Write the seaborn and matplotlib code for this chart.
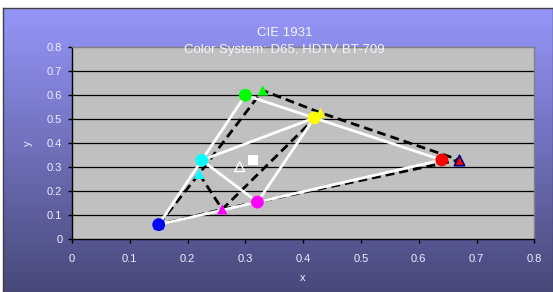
import numpy as np
import matplotlib
matplotlib.use('Agg')
import matplotlib.pyplot as plt
import seaborn as sns

# BT-709 primaries + secondaries (circles, white lines)
bt709_names = ['red', 'green', 'blue', 'cyan', 'magenta', 'yellow']
bt709_x = [0.64, 0.30, 0.15, 0.2246, 0.3209, 0.4193]
bt709_y = [0.33, 0.60, 0.06, 0.3287, 0.1542, 0.5053]
bt709_colors = ['#ff0000', '#00ff00', '#0000ff', '#00ffff', '#ff00ff', '#ffff00']

# comparison system (triangles, dashed black lines)
cmp_x = [0.67, 0.33, 0.15, 0.22, 0.26, 0.43]
cmp_y = [0.33, 0.62, 0.06, 0.272, 0.124, 0.527]

# white points
d65_x, d65_y = 0.3127, 0.329
wp_x, wp_y = 0.29, 0.302

# drawing order of line segments (indices into the lists above)
white_path = [2, 3, 1, 5, 0, 4, 2]
white_inner = [3, 5, 4, 3]
dash_path = [2, 3, 1, 5, 0, 4, 2]
dash_inner = [3, 4, 5]

sns.set_theme(style='white')
plt.rcParams['font.family'] = ['Liberation Sans', 'DejaVu Sans']

W, H = 553, 292
fig = plt.figure(figsize=(W / 100, H / 100), dpi=100)
fig.patch.set_facecolor('white')

# gradient chart area background
bg = fig.add_axes([3 / W, 0, 1 - 3 / W, (H - 8) / H])
top = np.array([150, 150, 250]) / 255
bot = np.array([72, 72, 122]) / 255
t = np.linspace(0, 1, 256)[:, None]
grad = (top[None, :] * (1 - t) + bot[None, :] * t)[:, None, :]
bg.imshow(grad, aspect='auto', extent=[0, 1, 0, 1])
bg.set_xticks([])
bg.set_yticks([])
for s in bg.spines.values():
    s.set_color('#404040')
    s.set_linewidth(1.0)

ax = fig.add_axes([72 / W, (H - 239) / H, (534.3 - 72) / W, (239 - 47.3) / H])
ax.set_facecolor('#c0c0c0')
ax.set_xlim(0, 0.8)
ax.set_ylim(0, 0.8)
ax.set_xticks(np.arange(0, 0.81, 0.1))
ax.set_yticks(np.arange(0, 0.81, 0.1))
ax.set_xticklabels(['0', '0.1', '0.2', '0.3', '0.4', '0.5', '0.6', '0.7', '0.8'])
ax.set_yticklabels(['0', '0.1', '0.2', '0.3', '0.4', '0.5', '0.6', '0.7', '0.8'])
for yv in np.arange(0.1, 0.8, 0.1):
    ax.axhline(yv, color='black', lw=0.9, zorder=1)
ax.spines['left'].set_color('black')
ax.spines['bottom'].set_color('black')
ax.spines['top'].set_color('#808080')
ax.spines['right'].set_color('#808080')
for s in ax.spines.values():
    s.set_linewidth(1.0)
ax.tick_params(colors='black', labelcolor='#eeeeff', labelsize=8,
               direction='out', length=3, width=1,
               bottom=True, left=True)
ax.tick_params(axis='x', pad=8)
ax.tick_params(axis='y', pad=4)

dash = (0, (3.2, 1.8))

# white solid lines
sns.lineplot(x=[bt709_x[i] for i in white_path], y=[bt709_y[i] for i in white_path],
             sort=False, estimator=None, color='white', lw=2, ax=ax, zorder=3)
sns.lineplot(x=[bt709_x[i] for i in white_inner], y=[bt709_y[i] for i in white_inner],
             sort=False, estimator=None, color='white', lw=2, ax=ax, zorder=3)

# dashed black lines
sns.lineplot(x=[cmp_x[i] for i in dash_path], y=[cmp_y[i] for i in dash_path],
             sort=False, estimator=None, color='black', lw=2, ax=ax, zorder=2,
             linestyle=dash)
sns.lineplot(x=[cmp_x[i] for i in dash_inner], y=[cmp_y[i] for i in dash_inner],
             sort=False, estimator=None, color='black', lw=2, ax=ax, zorder=2,
             linestyle=dash)

# triangle markers
edge = ['#000080', 'none', 'none', 'none', 'none', 'none']
for i in range(6):
    ax.scatter(cmp_x[i], cmp_y[i], marker='^', s=55, color=bt709_colors[i],
               edgecolors=edge[i], linewidths=1.2, zorder=4)

# circle markers
sns.scatterplot(x=bt709_x, y=bt709_y, hue=bt709_names, palette=bt709_colors,
                s=85, marker='o', linewidth=0, legend=False, ax=ax, zorder=5)

ax.scatter(d65_x, d65_y, marker='s', s=55, color='white', linewidths=0, zorder=5)
ax.scatter(wp_x, wp_y, marker='^', s=50, facecolors='none', edgecolors='white',
           linewidths=1.0, zorder=5)

ax.set_xlabel('x', color='#eeeeff', fontsize=8, labelpad=6)
ax.set_ylabel('y', color='#eeeeff', fontsize=8, labelpad=10)

fig.text(285 / W, 1 - 32.7 / H, 'CIE 1931', ha='center', va='center',
         color='#f4f4ff', fontsize=9.5)
fig.text(284.5 / W, 1 - 50 / H, 'Color System: D65, HDTV BT-709', ha='center',
         va='center', color='#f4f4ff', fontsize=9.5)

fig.savefig('out.png', dpi=100)
